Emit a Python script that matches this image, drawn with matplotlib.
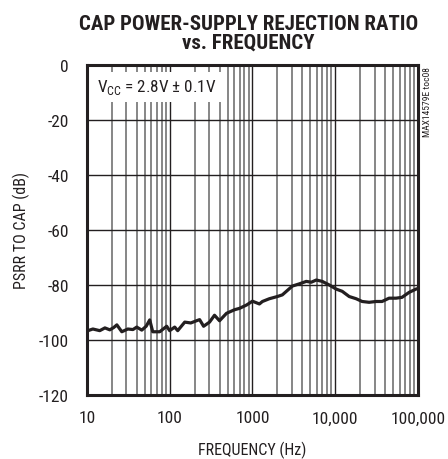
import numpy as np
import matplotlib
matplotlib.use("Agg")
import matplotlib.pyplot as plt
from matplotlib import font_manager
from matplotlib.ticker import FixedLocator, LogLocator, NullFormatter

# curve (Hz, dB)
freq = [10, 10.3, 11.8, 14.3, 16.5, 18.9, 21, 23, 26.4, 31.2, 36, 40, 46, 52, 57.4,
        62.4, 75.8, 92, 100, 115, 125, 152, 180, 211, 230, 257, 303, 348, 400,
        486, 607, 697, 847, 1000, 1214, 1320, 1600, 2000, 2297, 2640, 3033, 3680,
        4475, 5140, 5904, 6970, 8470, 10280, 12140, 14750, 17900, 21140, 25700,
        31200, 36800, 44750, 54300, 64100, 78000, 94600, 100000]
psrr = [-97.5, -96.6, -96.0, -96.6, -95.6, -96.3, -95.5, -94.5, -97.0, -96.0, -96.2,
        -95.3, -96.4, -95.0, -92.7, -97.0, -97.0, -95.0, -96.6, -95.3, -96.6, -93.5,
        -93.8, -93.0, -92.6, -95.0, -93.5, -91.0, -93.0, -90.3, -89.0, -88.5, -87.3,
        -85.9, -86.9, -86.0, -85.0, -84.2, -83.6, -82.0, -80.4, -79.6, -78.7, -79.0,
        -78.2, -78.7, -80.0, -81.5, -82.3, -84.2, -85.0, -86.0, -86.3, -86.0, -86.0,
        -84.8, -84.8, -84.5, -82.7, -81.5, -81.3]

yticks = [0, -20, -40, -60, -80, -100, -120]
xticks = [10, 100, 1000, 10000, 100000]
xticklabels = ["10", "100", "1000", "10,000", "100,000"]

dark = "#231f20"

# pick a narrow face if one is around
have = {f.name for f in font_manager.fontManager.ttflist}
narrow = None
for name in ["Liberation Sans Narrow", "DejaVu Sans Condensed", "Roboto Condensed",
             "Open Sans Condensed"]:
    if name in have:
        narrow = name
        break
if narrow is None:
    narrow = "Liberation Sans"
    scale = 0.9
else:
    scale = 1.0
plt.rcParams["font.family"] = [narrow, "DejaVu Sans"]

fig = plt.figure(figsize=(4.48, 4.6), dpi=100)
ax = fig.add_axes([0.194, 0.139, 0.739, 0.718])

ax.set_xscale("log")
ax.set_xlim(10, 100000)
ax.set_ylim(-120, 0)

ax.xaxis.set_major_locator(FixedLocator(xticks))
ax.set_xticklabels(xticklabels)
ax.xaxis.set_minor_locator(LogLocator(base=10, subs=np.arange(2, 10)))
ax.xaxis.set_minor_formatter(NullFormatter())
ax.set_yticks(yticks)
ax.set_yticklabels([str(v) for v in yticks])

ax.grid(which="major", color=dark, lw=1.0)
ax.grid(which="minor", axis="x", color="#666666", lw=1.1)
ax.set_axisbelow(True)
ax.tick_params(which="both", length=0, labelsize=12.5 * scale, colors=dark)
ax.tick_params(axis="x", pad=11)
ax.tick_params(axis="y", pad=13)

for s in ax.spines.values():
    s.set_linewidth(2.2)
    s.set_color(dark)

ax.plot(freq, psrr, color=dark, lw=2.3, zorder=3)

ax.set_xlabel("FREQUENCY (Hz)", fontsize=11.5 * scale, color=dark, labelpad=11)
ax.set_ylabel("PSRR TO CAP (dB)", fontsize=11.5 * scale, color=dark, labelpad=6)

fig.text(0.555, 0.968, "CAP POWER-SUPPLY REJECTION RATIO\nvs. FREQUENCY",
         ha="center", va="top", fontsize=15 * scale, fontweight="bold", color=dark,
         linespacing=1.0)

ax.text(0.03, 0.962, r"V$_{\mathregular{CC}}$ = 2.8V ± 0.1V", transform=ax.transAxes,
        ha="left", va="top", fontsize=12.3 * scale, color=dark, zorder=4,
        bbox=dict(facecolor="white", edgecolor="none", pad=4))

fig.text(0.955, 0.855, "MAX14579E toc08", rotation=90, ha="center", va="top",
         fontsize=6.8 * scale, color=dark)

fig.savefig("out.png", dpi=100)
